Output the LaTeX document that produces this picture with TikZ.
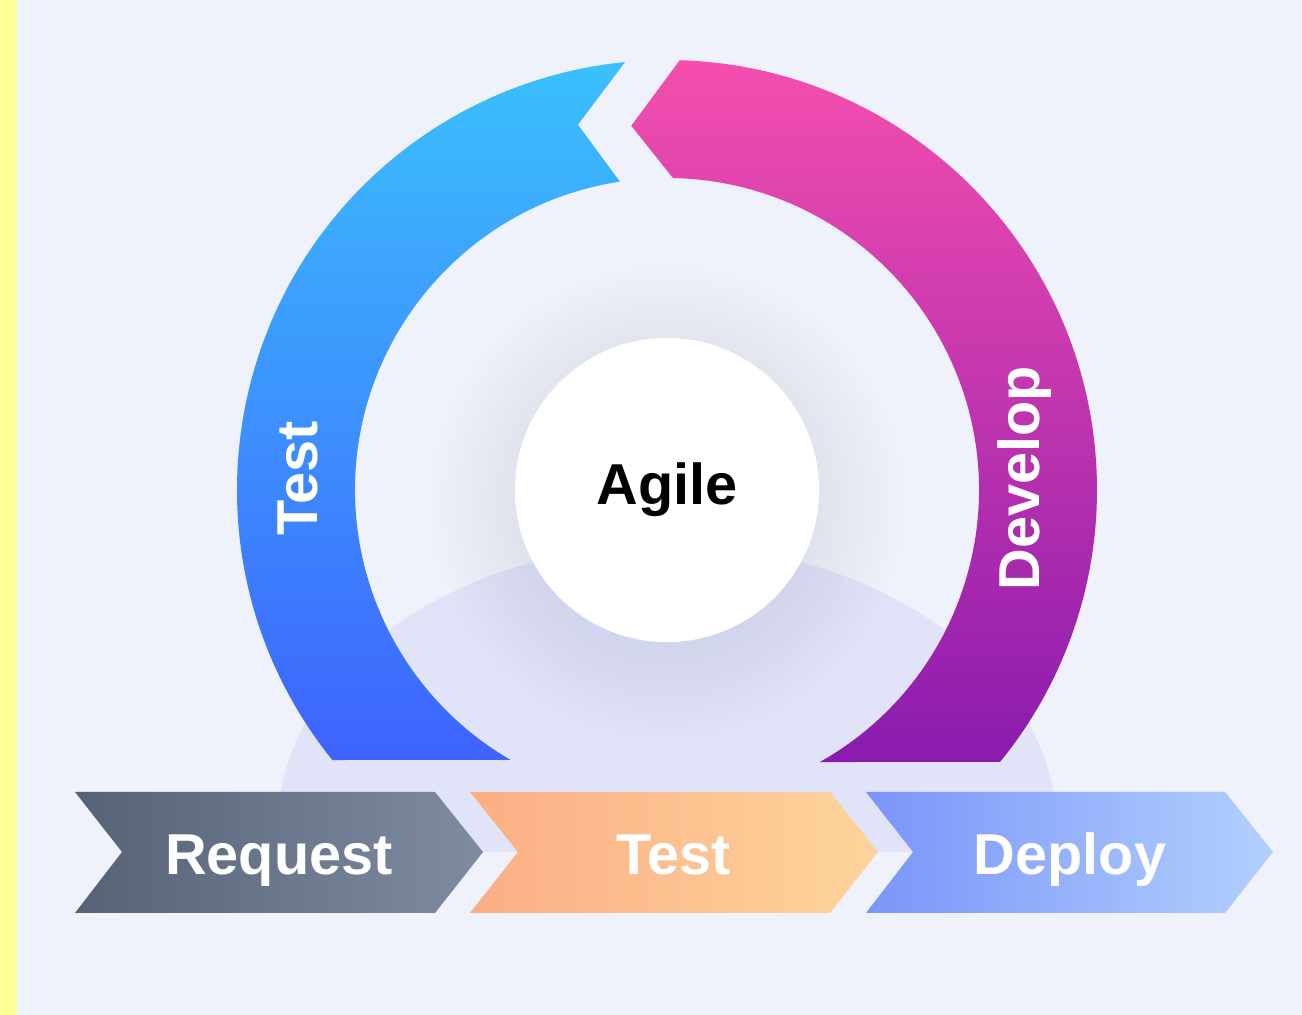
\documentclass[tikz,border=0pt]{standalone}
\usepackage{fontspec}
\setmainfont{Liberation Sans}
\definecolor{backc}{HTML}{EFF1FB}
\definecolor{haloc}{HTML}{E1E4F8}
\definecolor{glowc}{HTML}{C3C7EE}
\definecolor{stripc}{HTML}{FFFF99}
\definecolor{testtop}{HTML}{3BC0FD}
\definecolor{testbot}{HTML}{3E63FE}
\definecolor{devtop}{HTML}{F44EAE}
\definecolor{devbot}{HTML}{8A1BAE}
\definecolor{reqleft}{HTML}{566276}
\definecolor{reqright}{HTML}{7E8BA1}
\definecolor{tstleft}{HTML}{FBAE84}
\definecolor{tstright}{HTML}{FDD49C}
\definecolor{depleft}{HTML}{7A95F9}
\definecolor{depright}{HTML}{B2D0FD}

\begin{document}
\begin{tikzpicture}[x=0.01cm, y=0.01cm,
    big font/.style={font=\fontsize{16.4}{20}\selectfont\bfseries},
    band label/.style={big font, rotate=90, text=white},
    step label/.style={big font, text=white, anchor=base},
    chevron/.style 2 args={left color=#1, right color=#2, draw=none},
    hub/.style={circle, fill=white, minimum size=3.04cm, inner sep=0pt, big font}]

  \useasboundingbox (0,0) rectangle (1302,1015);
  \fill[backc] (0,0) rectangle (1302,1015);
  \fill[stripc] (0,0) rectangle (17,1015);
  \begin{scope}
    \clip (17,163) rectangle (1302,1015);
    \fill[haloc] (667,185) ellipse [x radius=390, y radius=285];
  \end{scope}

  % soft shadow round the hub
  \foreach \r in {154,160,...,238}
    \fill[glowc, opacity=0.02] (667,512) circle (\r);

  % the two arcs of the cycle
  \begin{scope}[shift={(667,525)}]
    \shade[top color=testtop, bottom color=testbot]
      (218.9:430) arc[start angle=218.9, end angle=95.6, radius=430]
      -- (103.7:376) -- (98.7:312)
      arc[start angle=98.7, end angle=239.9, radius=312] -- cycle;
    \shade[top color=devtop, bottom color=devbot]
      (95.6:366) -- (88.3:430)
      arc[start angle=88.3, end angle=-39.2, radius=430]
      -- (-60.7:312) arc[start angle=-60.7, end angle=88.9, radius=312] -- cycle;
  \end{scope}

  \node[hub] (agile) at (667,525) {Agile};
  \node[band label] (testband) at (298,537) {Test};
  \node[band label] (devband) at (1025,537) {Develop};

  % pipeline
  \shade[chevron={reqleft}{reqright}]
    (75,223) -- (122,163) -- (75,102) -- (435,102) -- (483,163) -- (435,223) -- cycle;
  \shade[chevron={tstleft}{tstright}]
    (470,223) -- (518,163) -- (470,102) -- (830,102) -- (878,163) -- (830,223) -- cycle;
  \shade[chevron={depleft}{depright}]
    (866,223) -- (913,163) -- (866,102) -- (1225,102) -- (1273,163) -- (1225,223) -- cycle;

  \node[step label] (request) at (279,140) {Request};
  \node[step label] (test) at (674,140) {Test};
  \node[step label] (deploy) at (1070,140) {Deploy};

\end{tikzpicture}
\end{document}
